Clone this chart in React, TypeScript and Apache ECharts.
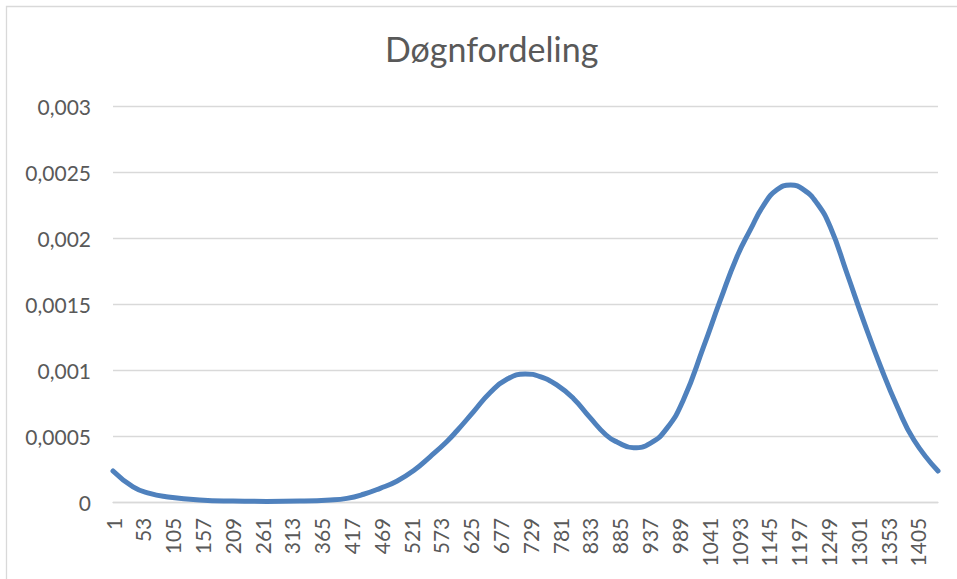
import React, { useEffect, useRef } from "react";
import * as echarts from "echarts";

const TITLE = "Døgnfordeling";
const MINUTES_IN_DAY = 1440;
const categories: string[] = Array.from({ length: MINUTES_IN_DAY }, (_, i) => String(i + 1));

const sampleMinutes: number[] = [
  1, 36, 65, 94, 152, 210, 269, 327, 380, 409, 438, 467, 496, 525, 554, 583, 601, 630,
  659, 688, 720, 746, 775, 804, 832, 861, 880, 909, 938, 967, 996, 1031, 1060, 1089,
  1113, 1136, 1159, 1183, 1206, 1229, 1252, 1281, 1310, 1340, 1369, 1398, 1440,
];
const sampleValues: number[] = [
  0.00024, 0.00012, 0.00007, 0.000045, 0.00002, 0.000012, 0.00001, 0.000012, 0.00002,
  0.000033, 0.000064, 0.000109, 0.000163, 0.000242, 0.000348, 0.000462, 0.000545,
  0.00069, 0.000835, 0.000935, 0.000975, 0.000955, 0.000892, 0.00079, 0.00065, 0.000513,
  0.00046, 0.000416, 0.00045, 0.000563, 0.00078, 0.00118, 0.00153, 0.00186, 0.00207,
  0.002255, 0.00237, 0.002407, 0.00237, 0.002268, 0.00209, 0.00174, 0.00138, 0.00103,
  0.000727, 0.000475, 0.00024,
];

const yMin = 0;
const yMax = 0.003;
const yStep = 0.0005;

export default function App() {
  const ref = useRef<HTMLDivElement>(null);
  useEffect(() => {
    if (!ref.current) return;
    const chart = echarts.init(ref.current, undefined, { renderer: "svg" });
    const data = sampleMinutes.map((m, i) => [m - 1, sampleValues[i]]);
    const textColor = "#595959";
    const font = "Lato, 'Open Sans', sans-serif";
    chart.setOption({
      animation: false,
      backgroundColor: "#ffffff",
      title: {
        text: TITLE,
        left: 380,
        top: 26,
        textStyle: { color: textColor, fontSize: 34, fontWeight: "normal", fontFamily: font },
      },
      graphic: [
        {
          type: "rect",
          shape: { x: 6.5, y: 6.5, width: 1000, height: 1000 },
          style: { fill: "none", stroke: "#d9d9d9", lineWidth: 1.3 },
          silent: true,
        },
      ],
      grid: { left: 113, right: 19, top: 106.7, bottom: 76.3, outerBoundsMode: "none" },
      xAxis: {
        type: "category",
        data: categories,
        boundaryGap: false,
        axisTick: { show: false },
        axisLine: { show: true, lineStyle: { color: "#d9d9d9", width: 1.3 } },
        axisLabel: {
          interval: 51,
          rotate: 90,
          margin: 15,
          color: textColor,
          fontSize: 21,
          fontFamily: font,
        },
        splitLine: { show: false },
      },
      yAxis: {
        type: "value",
        min: yMin,
        max: yMax,
        interval: yStep,
        axisLine: { show: false },
        axisTick: { show: false },
        axisLabel: {
          margin: 22,
          color: textColor,
          fontSize: 21,
          fontFamily: font,
          formatter: (v: number) => String(+v.toFixed(4)).replace(".", ","),
        },
        splitLine: { lineStyle: { color: "#d9d9d9", width: 1.3 } },
      },
      series: [
        {
          type: "line",
          data,
          smooth: 0.5,
          showSymbol: false,
          lineStyle: { color: "#4F81BD", width: 5, cap: "round" },
          itemStyle: { color: "#4F81BD" },
        },
      ],
    });
    return () => chart.dispose();
  }, []);
  return (
    <div
      ref={ref}
      style={{ position: "fixed", left: 0, top: 0, width: 957, height: 579, background: "#fff" }}
    />
  );
}
